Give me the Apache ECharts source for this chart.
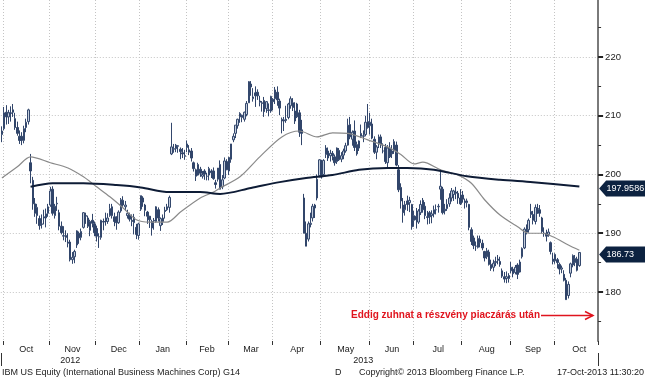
<!DOCTYPE html>
<html><head><meta charset="utf-8">
<script src="https://cdn.jsdelivr.net/npm/echarts@6/dist/echarts.min.js"></script>
<style>html,body{margin:0;padding:0;background:#fff}#c{width:645px;height:380px}</style>
</head><body><div id="c"></div><script>
// ---- categories (trading-day slots per month) ----
const monthLabels = ['', 'Oct','Nov','Dec','Jan','Feb','Mar','Apr','May','Jun','Jul','Aug','Sep','Oct'];
const monthSlots = [1,21,21,20,21,19,20,22,22,20,22,22,20,20];
const monthTradingDays = [1,21,21,20,21,19,20,22,22,20,22,22,20,23];
const yearLabels = ['2012','2013'];
const yearLabelAt = [31,164];
const yearBreakMonth = 4; // Jan 2013

// ---- daily bars [open, high, low, close] ----
const sep2012 = [[206.8,208.2,205.5,207.4]];
const oct2012 = [
[207.8,211.5,207.5,210.5],[210.6,211.8,208.5,209.8],[209.8,211.0,208.6,210.5],[210.5,211.6,209.0,210.4],[211.0,212.0,209.8,210.6],
[209.5,210.5,207.6,208.0],[208.0,209.0,206.6,207.0],[206.5,207.5,205.2,205.8],[206.5,207.2,205.0,205.8],[205.8,208.3,205.3,207.8],
[208.0,209.5,207.2,208.9],[209.0,211.2,208.5,211.0],[202.0,203.5,198.5,200.6],[199.0,199.6,194.0,195.0],[195.0,196.0,192.8,193.4],
[193.0,195.0,191.6,194.4],[192.5,193.0,190.6,191.3],[191.5,193.2,190.8,191.6],[192.8,194.0,191.5,192.6],[192.6,194.2,191.0,193.3],
[193.4,195.0,192.8,194.5]];
const nov2012 = [
[194.8,197.9,194.5,197.2],[197.5,198.0,193.0,193.4],[193.0,195.0,192.5,194.6],[195.0,196.2,193.8,195.1],[193.5,194.0,190.5,191.2],
[191.2,192.0,189.8,190.1],[189.5,191.2,188.8,189.6],[189.6,190.5,188.5,189.3],[188.5,190.0,187.6,188.3],[188.5,188.9,185.2,185.5],
[185.5,186.8,184.8,185.9],[186.0,187.2,184.9,186.9],[188.0,190.5,187.5,190.4],[190.0,190.3,188.2,189.2],[189.3,190.8,188.8,190.3],
[191.0,193.6,190.8,193.5],[193.0,193.5,191.6,192.9],[192.6,193.0,190.9,191.2],[190.5,192.3,189.5,192.0],[192.2,193.3,191.0,191.7],
[191.6,192.0,189.5,190.1]];
const dec2012 = [
[190.8,191.3,188.6,189.5],[189.4,190.0,187.5,189.4],[189.3,192.3,188.9,192.2],[192.0,192.5,190.5,191.9],[192.0,193.5,191.3,192.0],
[192.0,193.4,191.6,192.6],[193.0,195.0,192.8,194.2],[194.5,195.0,192.5,193.0],[192.8,193.5,191.2,192.0],[192.0,192.9,190.6,191.8],
[191.8,193.9,191.6,193.6],[193.8,196.0,193.5,195.7],[195.6,196.3,194.5,194.8],[194.5,195.5,193.8,194.8],[193.0,194.0,192.5,193.4],
[193.0,193.5,192.0,192.4],[192.2,193.2,191.2,192.0],[191.8,193.3,189.8,192.7],[191.0,191.6,189.0,189.8],[189.6,191.8,188.9,191.6]];
const jan2013 = [
[194.1,196.4,193.8,196.4],[196.0,196.3,194.5,195.3],[194.8,195.0,192.9,193.9],[193.6,193.8,191.6,192.9],[192.9,192.9,190.9,192.3],
[192.0,192.3,189.6,190.9],[192.2,192.6,190.6,192.1],[192.0,194.6,191.8,194.5],[194.0,194.4,192.0,192.6],[191.3,192.7,190.4,192.5],
[192.0,193.2,191.4,192.6],[193.9,194.5,192.5,193.7],[194.0,195.0,193.8,194.5],[194.4,196.4,193.5,196.1],[203.5,208.8,203.3,204.7],
[204.3,205.2,203.7,204.4],[204.4,205.2,203.8,205.0],[204.8,205.0,203.7,204.9],[204.3,204.6,202.6,203.9],[203.7,204.5,202.8,203.5],
[203.2,204.2,202.5,203.1]];
const feb2013 = [
[204.6,205.8,203.8,205.2],[204.2,205.0,203.3,203.8],[204.0,204.5,202.2,202.8],[202.0,202.2,200.5,201.0],[200.8,201.0,198.9,199.7],
[199.9,202.0,199.8,201.7],[200.9,201.3,199.6,200.2],[199.7,200.6,199.3,200.0],[200.6,200.9,199.1,200.1],[199.7,200.3,199.0,199.7],
[199.9,201.3,199.0,201.0],[200.6,200.9,199.4,200.3],[200.6,201.2,199.1,199.3],[198.6,199.1,197.6,198.3],[199.2,201.1,198.8,201.1],
[201.7,202.4,197.5,197.5],[197.9,199.9,197.5,199.1],[199.4,202.9,199.2,202.3],[202.2,202.6,200.8,200.8]];
const mar2013 = [
[200.6,203.0,199.9,202.9],[202.6,205.2,202.0,205.2],[205.9,207.0,205.5,206.5],[207.0,208.4,206.2,208.4],[208.3,209.5,207.8,209.4],
[209.8,210.6,208.8,210.4],[209.7,210.2,208.9,210.1],[209.4,210.7,209.0,210.6],[210.2,212.5,209.9,212.1],[212.2,215.9,212.2,215.8],
[215.4,215.9,213.4,214.9],[212.9,214.7,212.4,213.2],[213.9,215.0,211.5,213.4],[214.0,214.5,212.7,213.4],[212.5,213.4,211.6,212.3],
[212.2,212.5,210.7,212.1],[212.6,213.2,209.8,210.7],[211.2,212.5,210.5,212.4],[211.0,212.1,209.9,210.9],[210.8,213.4,210.5,213.3]];
const apr2013 = [
[212.8,213.0,210.9,212.4],[212.9,214.9,212.0,214.4],[214.0,215.0,211.7,212.7],[212.5,212.9,210.1,211.3],[209.1,209.7,207.0,209.4],
[209.1,209.8,207.4,209.3],[209.4,211.7,208.8,209.2],[209.7,212.2,209.4,212.0],[211.7,213.3,211.2,212.9],[212.2,213.0,210.8,211.4],
[210.8,212.3,208.6,209.1],[209.8,212.2,209.6,212.0],[210.5,211.0,206.4,207.2],[207.6,209.3,205.0,207.0],[196.0,196.7,190.0,190.0],
[190.0,192.0,187.8,187.8],[189.0,192.0,188.6,191.6],[191.5,193.5,191.0,191.7],[192.6,195.0,192.0,194.6],[194.8,195.0,192.6,194.3],
[196.0,200.0,195.6,199.2],[199.8,202.6,199.5,202.5]];
const may2013 = [
[201.9,202.5,199.3,199.6],[200.0,202.6,199.8,202.4],[203.4,205.0,202.8,204.5],[204.0,204.6,202.3,202.8],[203.2,204.2,202.2,203.6],
[203.6,204.0,202.4,203.2],[203.0,203.4,201.5,202.0],[202.2,204.6,201.8,204.5],[204.1,204.5,202.3,202.5],[202.6,203.8,202.1,203.2],
[203.3,204.4,202.6,204.0],[204.0,205.4,203.7,204.9],[205.0,209.5,204.9,208.4],[208.5,209.8,206.0,206.4],[206.0,207.5,204.9,207.2],
[207.4,209.2,204.0,204.6],[203.5,205.6,203.2,205.1],[204.5,205.8,204.0,205.7],[206.5,208.5,206.2,207.0],[206.5,207.5,205.5,206.6],
[206.8,210.0,206.5,208.9],[209.0,212.0,207.8,208.0]];
const jun2013 = [
[208.3,210.5,206.8,208.9],[208.6,209.5,206.0,206.2],[206.0,206.5,203.5,203.8],[203.8,205.0,202.6,204.7],[205.2,206.8,204.5,206.4],
[206.4,206.8,204.5,205.0],[204.0,205.3,203.6,204.0],[204.6,205.2,201.8,202.2],[202.0,205.0,201.2,204.5],[204.5,205.5,202.8,203.0],
[203.5,205.0,202.8,204.0],[204.0,206.0,203.5,205.6],[205.0,205.6,201.4,201.6],[200.8,201.6,197.0,197.4],[197.8,198.5,194.2,195.5],
[194.8,196.0,191.8,193.5],[194.0,195.5,193.0,194.9],[195.5,196.4,193.8,194.9],[195.2,196.2,193.6,195.6],[194.9,195.0,190.6,191.1]];
const jul2013 = [
[192.2,193.8,191.1,193.0],[192.9,194.3,190.8,192.3],[191.9,194.1,191.6,193.8],[193.5,195.6,193.1,194.9],[195.6,196.0,193.5,194.0],
[194.6,195.3,192.4,193.0],[192.8,193.8,191.5,192.7],[193.5,193.8,191.6,192.8],[193.0,193.9,191.7,193.3],[193.3,194.7,192.7,194.0],
[194.0,194.9,193.2,194.0],[194.5,195.0,193.5,194.6],[197.5,200.9,195.7,198.0],[197.5,197.9,193.2,193.5],[193.8,195.0,193.2,194.1],
[194.2,195.8,193.8,194.9],[195.0,196.8,194.5,196.0],[196.0,197.7,195.4,197.2],[196.6,197.4,195.5,197.2],[197.0,197.9,195.8,196.8],
[196.8,197.2,195.0,196.0],[196.0,197.5,194.8,195.0]];
const aug2013 = [
[196.5,197.2,195.2,195.8],[195.5,195.9,194.2,195.2],[195.2,195.9,194.4,195.5],[194.9,195.0,190.5,191.0],[190.6,191.0,188.0,188.6],
[189.2,189.6,187.3,187.9],[187.8,188.6,187.0,187.8],[187.6,189.6,187.4,189.1],[189.0,189.6,187.6,188.4],[188.3,188.9,187.1,187.5],
[186.9,187.0,185.2,185.8],[186.0,187.5,185.6,187.0],[186.8,187.2,184.5,184.7],[184.7,185.5,183.6,184.0],[184.2,185.5,183.5,184.9],
[185.0,186.0,184.4,185.2],[185.6,186.3,184.7,185.4],[185.2,186.0,184.3,184.7],[183.6,184.0,182.4,182.7],[182.6,183.4,181.6,182.2],
[182.3,183.5,181.5,182.6],[182.8,183.2,181.6,182.3]];
const sep2013 = [
[183.6,185.1,183.2,184.2],[183.9,184.3,182.5,183.1],[183.3,184.6,183.0,184.2],[184.6,184.9,182.2,183.0],[183.4,185.5,183.3,185.1],
[186.0,187.6,185.7,187.4],[187.5,191.0,187.3,190.7],[190.5,191.5,189.8,190.2],[190.6,192.5,190.1,192.2],[193.7,195.0,192.6,193.2],
[193.2,193.8,191.5,192.2],[192.0,194.9,191.5,194.4],[194.2,195.0,193.3,194.1],[194.0,194.8,192.8,193.4],[192.6,192.8,190.0,190.3],
[190.0,191.0,189.4,190.0],[190.0,190.6,188.6,189.5],[189.8,190.8,189.4,190.2],[188.4,188.6,186.4,186.9],[185.6,186.7,184.7,185.2]];
const oct2013 = [
[185.3,186.6,184.8,186.4],[185.5,185.8,184.0,185.0],[184.7,185.0,183.0,183.9],[183.9,184.5,183.2,184.1],[183.0,183.7,181.8,182.0],
[182.0,182.4,178.7,178.7],[179.4,181.8,178.9,181.3],[183.2,185.0,182.5,184.8],[184.6,186.4,184.2,186.2],[185.0,186.3,184.4,185.7],
[185.6,186.0,183.5,183.7],[184.5,186.8,184.3,186.73]];

// ---- moving averages [dayIndex, value] ----
const ma50 = [[0,199.4],[7,201.3],[13,203.0],[22,202.0],[30,201.1],[37,199.6],[43,197.9],[49,196.2],[55,194.3],[61,192.3],
[67,191.9],[75,191.9],[81,193.6],[90,196.0],[96,197.0],[99,197.7],[108,199.6],[117,203.0],[127,206.4],[135,207.4],
[143,206.4],[150,207.1],[157,207.0],[166,205.9],[175,204.7],[181,203.4],[187,201.8],[191,202.1],[199,200.8],[207,199.9],
[213,198.5],[219,195.7],[226,193.1],[234,191.1],[239,190.0],[245,190.0],[250,189.4],[257,188.0],[262,187.1]];
const ma200 = [[13,197.9],[23,198.5],[37,198.5],[52,198.2],[63,197.8],[76,197.0],[90,197.0],[99,196.7],[113,197.7],[126,198.7],
[138,199.4],[150,199.9],[162,200.8],[175,201.1],[184,201.1],[196,200.8],[211,199.7],[226,199.1],[241,198.7],[262,197.9586]];

// ---- axis ranges ----
const yMin = 171.66, yMax = 229.70;
const majorMin = 180, majorMax = 220, minorMin = 175, minorMax = 225;

// ---- build ----
const bars = [].concat(sep2012, oct2012, nov2012, dec2012, jan2013, feb2013, mar2013, apr2013, may2013, jun2013, jul2013, aug2013, sep2013, oct2013);
const candleData = bars.map(b => [b[0], b[3], b[2], b[1]]);
const categories = [];
const monthStart = new Set();
const monthLabelAt = {};
let idx = 0;
monthSlots.forEach((n, m) => {
  if (m > 0) { monthStart.add(idx); monthLabelAt[idx + Math.floor(monthTradingDays[m] / 2)] = monthLabels[m]; }
  for (let k = 0; k < n; k++) categories.push(m + '-' + k);
  idx += n;
});
let yearBreak = 0; for (let m = 0; m < yearBreakMonth; m++) yearBreak += monthSlots[m];
const yearLabelMap = {}; yearLabelAt.forEach((p, i) => yearLabelMap[p] = yearLabels[i]);

const FONT = 'Liberation Sans, Arial, sans-serif';
const H = 380, plotTop = 0, plotBottom = 341, plotLeft = 0.8, plotRightMargin = 46.9;
const pxPer = (plotBottom - plotTop) / (yMax - yMin);
const yPx = v => plotTop + (yMax - v) * pxPer;

const dotted = {color: '#c4c4c4', width: 1, type: [1, 2]};
const option = {
  animation: false,
  backgroundColor: '#fff',
  grid: [
    {left: plotLeft, right: plotRightMargin, top: plotTop, bottom: H - plotBottom, outerBoundsMode: 'none', containLabel: false},
    {left: plotLeft, right: plotRightMargin, top: yPx(majorMax), bottom: H - yPx(majorMin), outerBoundsMode: 'none', containLabel: false},
    {left: plotLeft, right: plotRightMargin, top: yPx(minorMax), bottom: H - yPx(minorMin), outerBoundsMode: 'none', containLabel: false}
  ],
  xAxis: [
    {type: 'category', gridIndex: 0, data: categories, boundaryGap: true, position: 'bottom',
     axisLine: {show: false, onZero: false},
     axisTick: {show: true, interval: (i) => monthStart.has(i), length: 4, lineStyle: {color: '#333', width: 1}},
     axisLabel: {show: true, interval: (i) => monthLabelAt[i] !== undefined, formatter: (v, i) => monthLabelAt[i] || '',
       margin: 4, fontFamily: FONT, fontSize: 9, color: '#1a1a1a', hideOverlap: false},
     splitLine: {show: true, interval: (i) => monthStart.has(i), lineStyle: dotted}},
    {type: 'category', gridIndex: 0, data: categories, boundaryGap: true, position: 'bottom', offset: 12,
     axisLine: {show: false, onZero: false},
     axisTick: {show: true, interval: (i) => i === yearBreak, length: 13, lineStyle: {color: '#333', width: 1}},
     axisLabel: {show: true, interval: (i) => yearLabelMap[i] !== undefined, formatter: (v, i) => yearLabelMap[i] || '',
       margin: 3, fontFamily: FONT, fontSize: 9, color: '#1a1a1a', hideOverlap: false},
     splitLine: {show: false}},
    {type: 'value', gridIndex: 1, show: false, min: 0, max: 1},
    {type: 'value', gridIndex: 2, show: false, min: 0, max: 1}
  ],
  yAxis: [
    {type: 'value', gridIndex: 0, position: 'right', min: yMin, max: yMax, scale: true,
     axisLine: {show: true, onZero: false, lineStyle: {color: '#7a7a7a', width: 2}}, axisTick: {show: false}, axisLabel: {show: false}, splitLine: {show: false}},
    {type: 'value', gridIndex: 1, position: 'right', min: majorMin, max: majorMax, interval: 10,
     axisLine: {show: false, onZero: false}, axisTick: {show: true, inside: false, length: 5, lineStyle: {color: '#222', width: 2}},
     axisLabel: {show: true, margin: 7, fontFamily: FONT, fontSize: 9.5, color: '#1a1a1a'},
     splitLine: {show: true, lineStyle: dotted}},
    {type: 'value', gridIndex: 2, position: 'right', min: minorMin, max: minorMax, interval: 10,
     axisLine: {show: false, onZero: false}, axisTick: {show: true, length: 3, lineStyle: {color: '#333', width: 1}},
     axisLabel: {show: false}, splitLine: {show: false}}
  ],
  series: [
    {type: 'candlestick', xAxisIndex: 0, yAxisIndex: 0, data: candleData, barWidth: 2,
     itemStyle: {color: '#c3cddc', color0: '#31456a', borderColor: '#34486d', borderColor0: '#31456a', borderWidth: 1}},
    {type: 'line', xAxisIndex: 0, yAxisIndex: 0, data: ma50, symbol: 'none', smooth: 0.3,
     lineStyle: {color: '#8a8a8a', width: 1.2}, z: 3},
    {type: 'line', xAxisIndex: 0, yAxisIndex: 0, data: ma200, symbol: 'none', smooth: 0.3,
     lineStyle: {color: '#0e1c36', width: 2}, z: 4}
  ]
};

const chart = echarts.init(document.getElementById('c'), null, {renderer: 'canvas'});
chart.setOption(option);

function tag(value, text) {
  const y = chart.convertToPixel({yAxisIndex: 0}, value) + 2;
  const x = plotLeft + (645 - plotRightMargin - plotLeft) + 1;
  return [
    {type: 'polygon', shape: {points: [[x, y], [x + 7, y - 8], [645, y - 8], [645, y + 8], [x + 7, y + 8]]},
     style: {fill: '#0c2240'}, z: 100},
    {type: 'text', x: x + 7.5, y: y, z: 101,
     style: {text: text, fill: '#ffffff', font: '9px ' + FONT, textVerticalAlign: 'middle', verticalAlign: 'middle', textAlign: 'left', align: 'left'}}
  ];
}
const lastClose = bars[bars.length - 1][3];
const lastMa200 = ma200[ma200.length - 1][1];
const red = '#e0141e';
const foot = (t, x, align) => ({type: 'text', x: x, y: 373, z: 100,
  style: {text: t, fill: '#222', font: '9px ' + FONT, textVerticalAlign: 'middle', verticalAlign: 'middle', textAlign: align, align: align}});
chart.setOption({graphic: [].concat(
  tag(lastMa200, String(lastMa200)),
  tag(lastClose, lastClose.toFixed(2)),
  [
    {type: 'text', x: 540, y: 315, z: 100, style: {text: 'Eddig zuhnat a részvény piaczárás után', fill: red,
      font: 'bold 10px ' + FONT, textVerticalAlign: 'middle', verticalAlign: 'middle', textAlign: 'right', align: 'right'}},
    {type: 'line', z: 100, shape: {x1: 541, y1: 315.5, x2: 593, y2: 315.5}, style: {stroke: red, lineWidth: 1.5}},
    {type: 'polyline', z: 100, shape: {points: [[585, 311.5], [593, 315.5], [585, 319.5]]}, style: {stroke: red, lineWidth: 1.5, fill: null}},
    foot('IBM US Equity (International Business Machines Corp) G14', 2, 'left'),
    foot('D', 335, 'left'),
    foot('Copyright\u00a9 2013 Bloomberg Finance L.P.', 359, 'left'),
    foot('17-Oct-2013 11:30:20', 644, 'right')
  ])});
</script></body></html>
